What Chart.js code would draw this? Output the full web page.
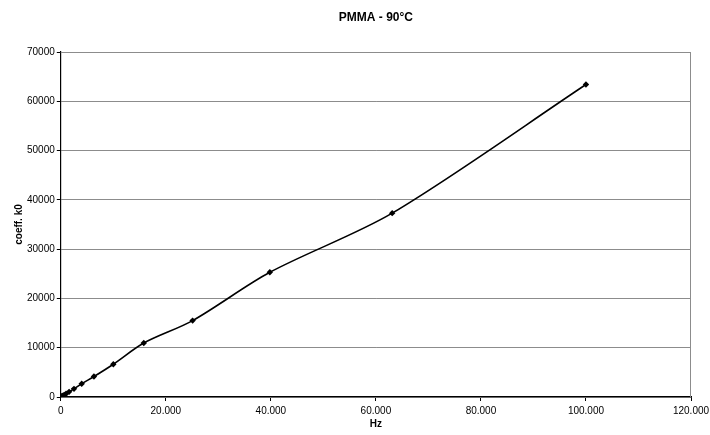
<!DOCTYPE html>
<html>
<head>
  <meta charset="UTF-8" />
  <title>PMMA - 90°C</title>
  <script src="https://cdn.jsdelivr.net/npm/chart.js"></script>
  <style>
    body {
      margin: 0;
      background: #fff;
    }
    #chart {
      display: block;
    }
  </style>
</head>
<body>
  <canvas id="chart" width="710" height="435"></canvas>

  <script>
    // frequency (Hz) and measured coefficient k0
    const freqHz = [100, 158, 251, 398, 631, 1000, 1580, 2510, 3980, 6310, 10000, 15800, 25100, 39800, 63100, 100000];
    const coeffK0 = [66, 105, 165, 265, 420, 660, 1050, 1650, 2700, 4150, 6650, 10950, 15500, 25300, 37300, 63400];

    const chartTitle = 'PMMA - 90°C';
    const xTitle = 'Hz';
    const yTitle = 'coeff. k0';

    const points = freqHz.map((f, i) => ({ x: f, y: coeffK0[i] }));

    // title centred over the plot area, like the original
    const plotTitle = {
      id: 'plotTitle',
      afterDraw(chart) {
        const { ctx, chartArea } = chart;
        ctx.save();
        ctx.font = 'bold 12px "Liberation Sans", Arial, sans-serif';
        ctx.fillStyle = '#000';
        ctx.textAlign = 'center';
        ctx.textBaseline = 'middle';
        ctx.fillText(chartTitle, (chartArea.left + chartArea.right) / 2, 18);
        ctx.restore();
      }
    };

    // grey frame on top and right of plot area
    const plotFrame = {
      id: 'plotFrame',
      beforeDatasetsDraw(chart) {
        const { ctx, chartArea: a } = chart;
        ctx.save();
        ctx.strokeStyle = '#8c8c8c';
        ctx.lineWidth = 1;
        ctx.beginPath();
        ctx.moveTo(a.left, a.top + 0.5);
        ctx.lineTo(a.right - 0.5, a.top + 0.5);
        ctx.lineTo(a.right - 0.5, a.bottom);
        ctx.stroke();
        ctx.restore();
      }
    };

    const font = { family: '"Liberation Sans", Arial, sans-serif', size: 10 };

    new Chart(document.getElementById('chart').getContext('2d'), {
      type: 'scatter',
      data: {
        datasets: [{
          data: points,
          showLine: true,
          borderColor: '#000',
          borderWidth: 1.6,
          backgroundColor: '#000',
          pointStyle: 'rectRot',
          pointRadius: 3.2,
          pointBorderWidth: 0,
          tension: 0.3
        }]
      },
      options: {
        responsive: false,
        animation: false,
        layout: {
          padding: { top: 52, right: 19, bottom: 8, left: 13 }
        },
        plugins: {
          legend: { display: false },
          tooltip: { enabled: false }
        },
        scales: {
          x: {
            type: 'linear',
            min: 0,
            max: 120000,
            afterFit: s => { s.paddingRight = 0; },
            ticks: {
              stepSize: 20000,
              color: '#000',
              font: font,
              padding: 4,
              maxRotation: 0,
              callback: v => v.toString().replace(/\B(?=(\d{3})+(?!\d))/g, '.')
            },
            grid: {
              drawOnChartArea: false,
              drawTicks: true,
              tickLength: 4,
              tickColor: '#000'
            },
            border: { color: '#000', width: 1.2 },
            title: {
              display: true,
              text: xTitle,
              color: '#000',
              font: { ...font, weight: 'bold', lineHeight: 0.6 },
              padding: { top: 0, bottom: 0 }
            }
          },
          y: {
            min: 0,
            max: 70000,
            ticks: {
              stepSize: 10000,
              color: '#000',
              font: font,
              padding: 2,
              callback: v => String(v)
            },
            grid: {
              color: '#8c8c8c',
              lineWidth: 1,
              tickLength: 4,
              tickColor: '#000'
            },
            border: { color: '#000', width: 1.2 },
            title: {
              display: true,
              text: yTitle,
              color: '#000',
              font: { ...font, weight: 'bold' },
              padding: { top: 0, bottom: 0 }
            }
          }
        }
      },
      plugins: [plotFrame, plotTitle]
    });
  </script>
</body>
</html>
